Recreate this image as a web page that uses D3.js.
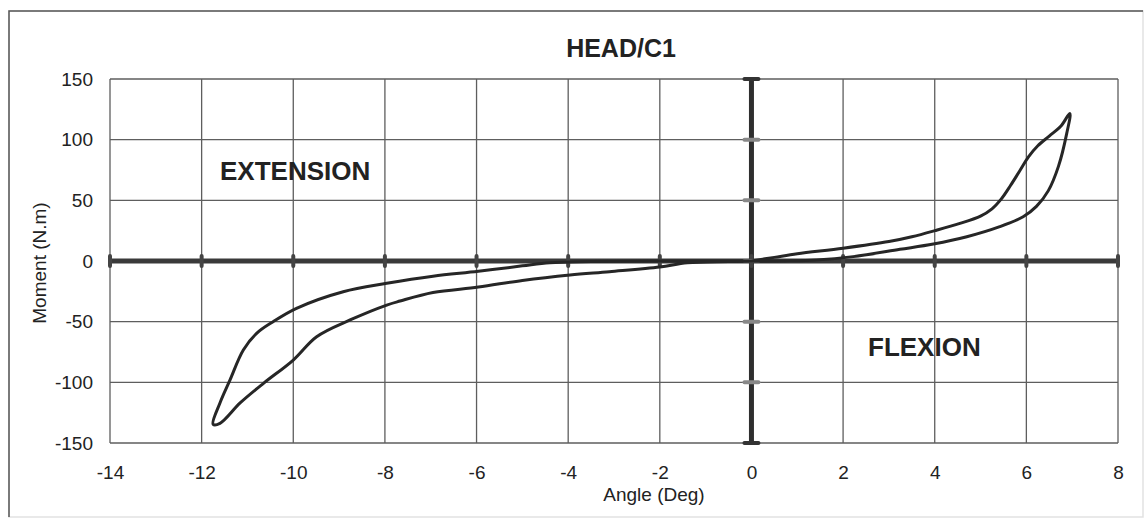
<!DOCTYPE html>
<html>
<head>
<meta charset="utf-8">
<script src="https://cdn.jsdelivr.net/npm/d3@7/dist/d3.min.js"></script>
<style>
body { margin: 0; background: #fff; }
text { font-family: "Liberation Sans", Arial, sans-serif; fill: #222; }
</style>
</head>
<body>
<script>
var chartTitle = 'HEAD/C1';
var xLabel = 'Angle (Deg)';
var yLabel = 'Moment (N.m)';
var xTicks = [-14, -12, -10, -8, -6, -4, -2, 0, 2, 4, 6, 8];
var yTicks = [-150, -100, -50, 0, 50, 100, 150];

// hysteresis loop, starting at the origin going into flexion
var angle = [0, 0.5, 1.0, 2.0, 3.0, 3.5, 4.0, 4.55, 5.0, 5.25, 5.45, 5.65, 5.85, 6.05, 6.25, 6.5, 6.75, 6.95,
    6.88, 6.7, 6.48, 6.22, 5.93, 5.42, 4.7, 3.97, 3.24, 2.22, 1.42, 0.7,
    -0.5, -1.4, -2.0, -3.1, -3.96, -5.0, -5.96, -6.95, -7.67, -7.96, -8.76, -9.49, -10.0, -10.65, -11.16, -11.6, -11.75,
    -11.6, -11.38, -11.09, -10.8, -10.44, -9.93, -8.91, -7.96, -6.95, -5.96, -5.0, -4.4, -3.5, -2.0, 0];
var moment = [0, 3, 6, 10.5, 16, 20, 25, 31, 37, 43, 51, 62, 74, 86, 95, 103, 111, 121.5,
    105, 78, 58, 45, 36.5, 28.3, 20, 14, 9.6, 3.6, 0.8, 0,
    -0.5, -1.5, -5, -8.8, -11.5, -16, -21.5, -26, -33, -36.3, -48.6, -62.4, -81.6, -100.8, -117, -133.8, -134.5,
    -117, -98, -73.4, -59.6, -50, -39, -25.3, -18.4, -12.5, -8.5, -4, -1.4, -0.5, 0, 0];

var margin = {top: 79, right: 29, bottom: 80, left: 110},
    width = 1147 - margin.left - margin.right,
    height = 523 - margin.top - margin.bottom;

var svg = d3.select('body')
    .append('svg')
    .attr('width', 1147)
    .attr('height', 523);

// outer frame of the scanned figure
svg.append('rect')
    .attr('x', 9).attr('y', 11)
    .attr('width', 1134).attr('height', 506)
    .attr('fill', 'none')
    .attr('stroke', '#e2e2e2')
    .attr('stroke-width', 1.5);
svg.append('path')
    .attr('d', 'M9,517V11H1143')
    .attr('fill', 'none')
    .attr('stroke', '#555')
    .attr('stroke-width', 1.5);

var x = d3.scaleLinear().domain([-14, 8]).range([0, width]);
var y = d3.scaleLinear().domain([-150, 150]).range([height, 0]);

var g = svg.append('g')
    .attr('transform', 'translate(' + margin.left + ',' + margin.top + ')');

// grid
g.selectAll('line.vgrid')
    .data(xTicks)
    .enter()
    .append('line')
    .attr('class', 'vgrid')
    .attr('x1', function (d) { return x(d); })
    .attr('x2', function (d) { return x(d); })
    .attr('y1', 0)
    .attr('y2', height)
    .attr('stroke', '#5e5e5e')
    .attr('stroke-width', 1.3);
g.selectAll('line.hgrid')
    .data(yTicks)
    .enter()
    .append('line')
    .attr('class', 'hgrid')
    .attr('x1', 0)
    .attr('x2', width)
    .attr('y1', function (d) { return y(d); })
    .attr('y2', function (d) { return y(d); })
    .attr('stroke', '#5e5e5e')
    .attr('stroke-width', 1.3);

// thick zero axes
g.append('line')
    .attr('x1', 0).attr('x2', width)
    .attr('y1', y(0)).attr('y2', y(0))
    .attr('stroke', '#3a3a3a')
    .attr('stroke-width', 5);
g.append('line')
    .attr('x1', x(0)).attr('x2', x(0))
    .attr('y1', y(150)).attr('y2', y(-150))
    .attr('stroke', '#2e2e2e')
    .attr('stroke-width', 5);

// little tick blobs on the zero axes
g.selectAll('rect.xt')
    .data(xTicks)
    .enter()
    .append('rect')
    .attr('class', 'xt')
    .attr('x', function (d) { return x(d) - 2; })
    .attr('y', y(0) - 7)
    .attr('width', 4)
    .attr('height', 14)
    .attr('rx', 2)
    .attr('fill', '#444');
g.selectAll('rect.yt')
    .data(yTicks)
    .enter()
    .append('rect')
    .attr('class', 'yt')
    .attr('x', x(0) - 9)
    .attr('y', function (d) { return y(d) - 2; })
    .attr('width', 18)
    .attr('height', 4)
    .attr('rx', 2)
    .attr('fill', function (d) { return Math.abs(d) === 150 ? '#333' : '#888'; });

// tick labels, plain hyphen for the minus like the original
var fmt = function (d) { return String(d); };
var yAxis = g.append('g')
    .call(d3.axisLeft(y).tickValues(yTicks).tickFormat(fmt).tickSize(0).tickPadding(17));
var xAxis = g.append('g')
    .attr('transform', 'translate(0,' + height + ')')
    .call(d3.axisBottom(x).tickValues(xTicks).tickFormat(fmt).tickSize(0).tickPadding(23));
[xAxis, yAxis].forEach(function (a) {
    a.select('.domain').remove();
    a.attr('font-family', null).attr('font-size', 19);
    a.selectAll('text').attr('fill', '#222');
});

// the loop
var line = d3.line()
    .x(function (d) { return x(d[0]); })
    .y(function (d) { return y(d[1]); })
    .curve(d3.curveCatmullRom.alpha(0.5));
g.append('path')
    .datum(d3.zip(angle, moment))
    .attr('d', line)
    .attr('fill', 'none')
    .attr('stroke', '#262626')
    .attr('stroke-width', 3)
    .attr('stroke-linejoin', 'round');

// texts
svg.append('text')
    .attr('x', 621).attr('y', 57)
    .attr('text-anchor', 'middle')
    .attr('font-size', 25)
    .attr('font-weight', 'bold')
    .text(chartTitle);
svg.append('text')
    .attr('x', 220).attr('y', 180)
    .attr('font-size', 26)
    .attr('font-weight', 'bold')
    .text('EXTENSION');
svg.append('text')
    .attr('x', 868).attr('y', 356)
    .attr('font-size', 26)
    .attr('font-weight', 'bold')
    .text('FLEXION');
svg.append('text')
    .attr('x', 654).attr('y', 501)
    .attr('text-anchor', 'middle')
    .attr('font-size', 19)
    .text(xLabel);
svg.append('text')
    .attr('transform', 'translate(46,263) rotate(-90)')
    .attr('text-anchor', 'middle')
    .attr('font-size', 19)
    .text(yLabel);
</script>
</body>
</html>
